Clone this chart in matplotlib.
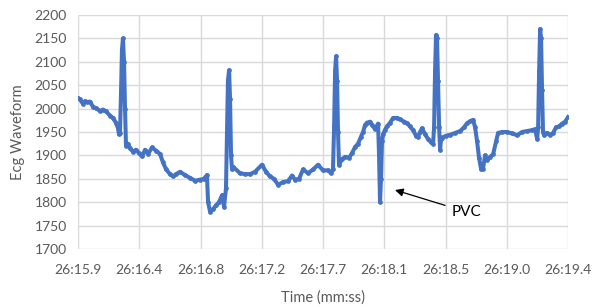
import matplotlib
matplotlib.use("Agg")
import matplotlib.pyplot as plt
import numpy as np

# seconds after 26:15.9 and ECG amplitude
time_s = [
    0.000, 0.014, 0.036, 0.050, 0.064, 0.086, 0.107, 0.129, 0.157, 0.179,
    0.200, 0.229, 0.250, 0.271, 0.286, 0.293, 0.300, 0.307, 0.314, 0.321,
    0.329, 0.336, 0.343, 0.357, 0.371, 0.393, 0.414, 0.436, 0.457, 0.479,
    0.500, 0.529, 0.557, 0.586, 0.607, 0.629, 0.657, 0.679, 0.700, 0.729,
    0.764, 0.800, 0.836, 0.871, 0.900, 0.921, 0.929, 0.943, 0.964, 0.986,
    1.007, 1.029, 1.043, 1.057, 1.064, 1.071, 1.079, 1.086, 1.093, 1.100,
    1.110, 1.157, 1.193, 1.229, 1.264, 1.314, 1.343, 1.371, 1.400, 1.429,
    1.464, 1.500, 1.529, 1.550, 1.579, 1.607, 1.643, 1.679, 1.714, 1.750,
    1.786, 1.807, 1.821, 1.829, 1.836, 1.843, 1.850, 1.857, 1.864, 1.886,
    1.907, 1.936, 1.957, 1.979, 2.000, 2.021, 2.036, 2.050, 2.064, 2.086,
    2.100, 2.121, 2.143, 2.150, 2.157, 2.164, 2.171, 2.179, 2.193, 2.207,
    2.229, 2.250, 2.279, 2.300, 2.329, 2.350, 2.371, 2.393, 2.414, 2.429,
    2.443, 2.457, 2.479, 2.500, 2.521, 2.536, 2.543, 2.550, 2.557, 2.564,
    2.571, 2.579, 2.586, 2.593, 2.600, 2.629, 2.657, 2.693, 2.729, 2.757,
    2.779, 2.800, 2.821, 2.836, 2.850, 2.864, 2.879, 2.893, 2.907, 2.921,
    2.943, 2.964, 2.986, 3.000, 3.029, 3.064, 3.100, 3.136, 3.171, 3.207,
    3.243, 3.264, 3.279, 3.286, 3.293, 3.300, 3.307, 3.314, 3.321, 3.329,
    3.350, 3.371, 3.393, 3.414, 3.436, 3.457, 3.479, 3.500,
]
ecg = [
    2022, 2020, 2010, 2016, 2014, 2015, 2004, 2001, 1995, 1998,
    1994, 1985, 1980, 1970, 1958, 1945, 1948, 2030, 2125, 2150,
    2100, 2000, 1920, 1925, 1915, 1908, 1912, 1905, 1898, 1912,
    1903, 1917, 1910, 1903, 1885, 1870, 1860, 1855, 1860, 1865,
    1858, 1852, 1846, 1848, 1850, 1858, 1800, 1780, 1785, 1793,
    1800, 1815, 1790, 1830, 1940, 2060, 2082, 2020, 1900, 1870,
    1875, 1862, 1860, 1860, 1865, 1880, 1865, 1855, 1850, 1837,
    1843, 1845, 1857, 1848, 1850, 1870, 1862, 1870, 1880, 1868,
    1868, 1862, 1870, 1960, 2080, 2112, 2060, 1950, 1880, 1892,
    1897, 1895, 1905, 1918, 1925, 1940, 1950, 1965, 1970, 1972,
    1965, 1956, 1968, 1900, 1800, 1850, 1930, 1945, 1955, 1962,
    1970, 1980, 1980, 1977, 1972, 1969, 1962, 1954, 1942, 1940,
    1950, 1958, 1945, 1935, 1928, 1925, 1960, 2080, 2157, 2150,
    2060, 1960, 1912, 1935, 1938, 1942, 1944, 1948, 1952, 1960,
    1969, 1973, 1976, 1960, 1930, 1895, 1870, 1872, 1900, 1890,
    1897, 1902, 1930, 1948, 1950, 1950, 1947, 1943, 1950, 1952,
    1954, 1956, 1935, 1960, 2080, 2170, 2150, 2040, 1950, 1943,
    1948, 1944, 1948, 1960, 1962, 1968, 1972, 1982,
]
tick_labels = ["26:15.9", "26:16.4", "26:16.8", "26:17.2", "26:17.7",
               "26:18.1", "26:18.5", "26:19.0", "26:19.4"]
pvc_time = 2.264
pvc_value = 1826

plt.rcParams["font.family"] = ["Lato", "DejaVu Sans"]

fig = plt.figure(figsize=(5.93, 3.07), dpi=100)
ax = fig.add_axes([0.1315, 0.189, 0.8265, 0.762])

blue = "#4472C4"
ax.plot(time_s, ecg, color=blue, linewidth=2.9, marker="o", markersize=3.4,
        markeredgewidth=0, solid_joinstyle="round", zorder=3)

ax.set_xlim(0, 3.5)
ax.set_ylim(1700, 2200)
ax.set_xticks(np.linspace(0, 3.5, len(tick_labels)))
ax.set_xticklabels(tick_labels)
ax.set_yticks(np.arange(1700, 2201, 50))

ax.grid(True, color="#d9d9d9", linewidth=1)
ax.set_axisbelow(True)
for s in ax.spines.values():
    s.set_visible(False)
ax.tick_params(length=0, labelsize=10, labelcolor="#595959")
ax.tick_params(axis="x", pad=11)
ax.tick_params(axis="y", pad=8)

ax.set_xlabel("Time (mm:ss)", fontsize=10.5, color="#595959", labelpad=10)
ax.set_ylabel("Ecg Waveform", fontsize=10.5, color="#595959", labelpad=7)

ax.annotate("PVC", xy=(pvc_time, pvc_value), xytext=(2.67, 1779),
            fontsize=11, color="black", va="center", ha="left",
            arrowprops=dict(arrowstyle="-|>", color="black", lw=0.9,
                            mutation_scale=12, shrinkA=3, shrinkB=0))

fig.savefig("out.png", dpi=100)
